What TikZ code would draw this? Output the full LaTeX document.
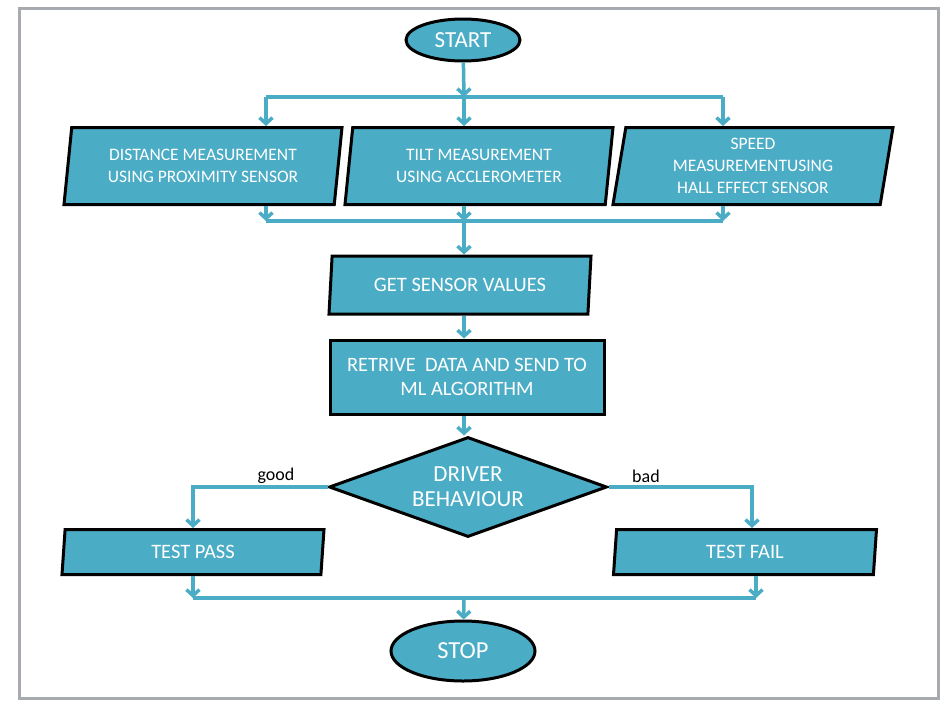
\documentclass[tikz,border=0pt]{standalone}
\usepackage{fontspec}
\setmainfont{Carlito}
\usetikzlibrary{shapes.geometric,arrows.meta}
\definecolor{aqua}{HTML}{4BACC6}
\definecolor{framegray}{HTML}{A7ABAF}
\begin{document}
\begin{tikzpicture}[x=1pt,y=-1pt,
  term/.style={ellipse, draw=black, line width=3pt, fill=aqua, text=white, inner sep=0pt, font=\fontsize{23}{27}\selectfont},
  iobox/.style={trapezium, trapezium left angle=77, trapezium right angle=103, trapezium stretches body, draw=black, line width=3pt, fill=aqua, text=white, align=center, inner sep=0pt, font=\fontsize{17.5}{22}\selectfont},
  procbox/.style={rectangle, draw=black, line width=3pt, fill=aqua, text=white, align=center, inner sep=0pt, font=\fontsize{20.4}{24}\selectfont},
  decision/.style={diamond, aspect=2.78, draw=black, line width=3pt, fill=aqua, text=white, align=center, inner sep=0pt, font=\fontsize{23}{25}\selectfont},
  wire/.style={draw=aqua, line width=3.5pt},
  flow/.style={wire, -{Straight Barb[length=6pt,width=13pt]}},
  lbl/.style={font=\fontsize{18}{20}\selectfont}]
\useasboundingbox (0,0) rectangle (950,710);
% Rámeček
\draw[framegray, line width=3pt] (19,8) rectangle (938,698);
% Uzly
\node[term, minimum width=114, minimum height=42] (start) at (463,40) {START};
\node[iobox, minimum width=278, minimum height=77] (dist) at (203,166) {DISTANCE MEASUREMENT\\USING PROXIMITY SENSOR};
\node[iobox, minimum width=268, minimum height=77] (tilt) at (479,166) {TILT MEASUREMENT\\USING ACCLEROMETER};
\node[iobox, minimum width=280, minimum height=77] (speed) at (753,166) {SPEED\\MEASUREMENTUSING\\HALL EFFECT SENSOR};
\node[iobox, minimum width=262, minimum height=58, font=\fontsize{20.5}{22}\selectfont] (get) at (460,285) {GET SENSOR VALUES};
\node[procbox, minimum width=274, minimum height=74] (ret) at (467,377) {RETRIVE\ \ DATA AND SEND TO\\ML ALGORITHM};
\node[decision, minimum width=278, minimum height=100] (dec) at (468,487) {DRIVER\\BEHAVIOUR};
\node[iobox, minimum width=262, minimum height=45, font=\fontsize{20.5}{22}\selectfont] (pass) at (193,552) {TEST PASS};
\node[iobox, minimum width=263, minimum height=45, font=\fontsize{20.5}{22}\selectfont] (fail) at (745,552) {TEST FAIL};
\node[term, minimum width=144, minimum height=60, font=\fontsize{24.5}{27}\selectfont] (stop) at (463,651) {STOP};
% Popisky
\node[lbl] (good) at (276,476) {good};
\node[lbl] (bad) at (646,476) {bad};
% Větvení
\coordinate (tl) at (266,97);
\coordinate (tm) at (464,97);
\coordinate (tr) at (723,97);
\draw[wire] (tl) -- (tr);
\draw[flow] (start) -- (tm);
\draw[flow] (tl) -- (tl |- dist.north);
\draw[flow] (tm) -- (tm |- tilt.north);
\draw[flow] (tr) -- (tr |- speed.north);
% Spojení
\coordinate (ml) at (266,221);
\coordinate (mm) at (464,221);
\coordinate (mr) at (723,221);
\draw[wire] (ml) -- (mr);
\draw[flow] (dist.south -| ml) -- (ml);
\draw[flow] (tilt.south -| mm) -- (mm);
\draw[flow] (speed.south -| mr) -- (mr);
\draw[flow] (mm) -- (mm |- get.north);
\draw[flow] (get.south -| mm) -- (mm |- ret.north);
\draw[flow] (ret.south -| mm) -- (mm |- dec.north);
% Rozhodnutí
\coordinate (gl) at (193,487);
\coordinate (gr) at (752,487);
\draw[flow] (dec.west) -- (gl) -- (gl |- pass.north);
\draw[flow] (dec.east) -- (gr) -- (gr |- fail.north);
% Konec
\coordinate (sl) at (193,598);
\coordinate (sm) at (464,598);
\coordinate (sr) at (756,598);
\draw[wire] (sl) -- (sr);
\draw[flow] (pass.south -| sl) -- (sl);
\draw[flow] (fail.south -| sr) -- (sr);
\draw[flow] (sm) -- (stop);
\end{tikzpicture}
\end{document}
